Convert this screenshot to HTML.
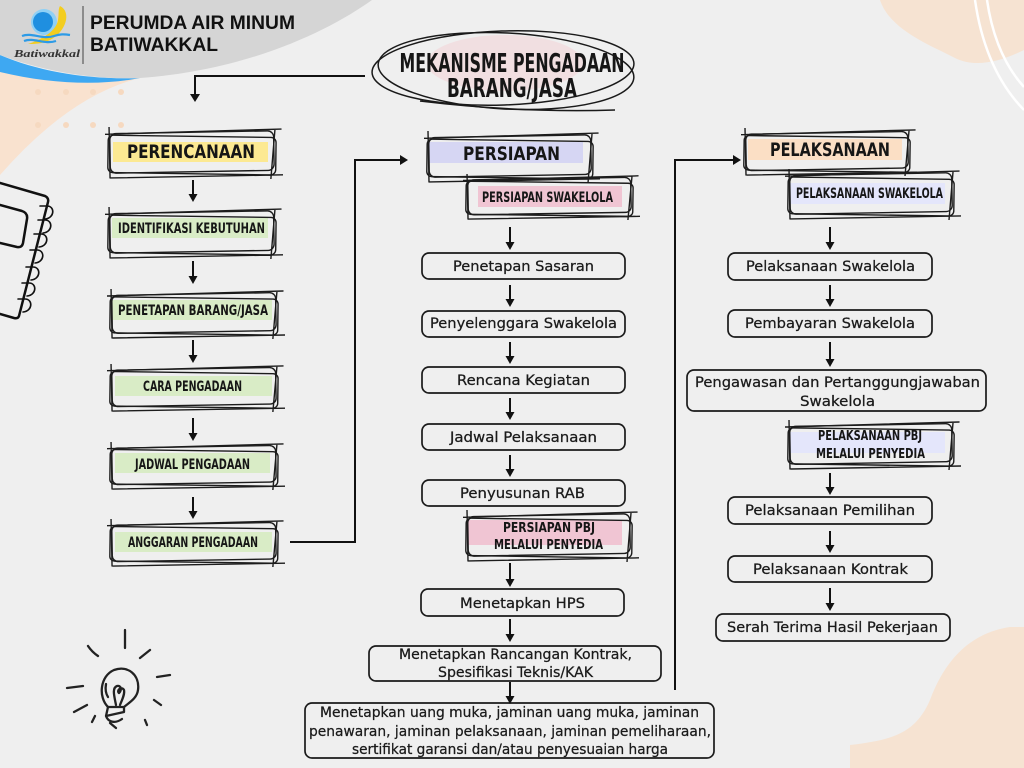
<!DOCTYPE html>
<html><head><meta charset="utf-8"><style>
html,body{margin:0;padding:0;background:#efefef;}
svg{display:block;}
.sk{font-family:"DejaVu Sans Condensed","DejaVu Sans",sans-serif;font-weight:bold;fill:#161616;}
.bx{font-family:"DejaVu Sans",sans-serif;fill:#1a1a1a;font-size:14px;stroke:#1a1a1a;stroke-width:0.25;}
</style></head><body>
<svg width="1024" height="768" viewBox="0 0 1024 768" xmlns="http://www.w3.org/2000/svg">
<defs>
<symbol id="sk" viewBox="0 0 176 50" preserveAspectRatio="none">
<g fill="none" stroke="#1c1c1c" stroke-width="1.4" stroke-linecap="round">
<rect x="5" y="5" width="162" height="38" rx="6" transform="rotate(-1 88 25)" vector-effect="non-scaling-stroke"/>
<rect x="3" y="9" width="166" height="36" rx="5" transform="rotate(0.8 88 25)" vector-effect="non-scaling-stroke"/>
<path d="M0 7 L174 2 M6 49 L176 46 M4 0 L5 49 M168 3 L164 50" vector-effect="non-scaling-stroke"/>
</g>
</symbol>
</defs>
<rect width="1024" height="768" fill="#efefef"/>
<!-- background shapes -->
<path d="M0 66 C40 80 100 84 140 78 Q70 95 0 175 Z" fill="#f9e2cf"/>
<path d="M0 55 C40 72 90 80 140 78 C100 86 50 84 0 72 Z" fill="#3ea8f2"/>
<path d="M0 0 L372 0 C330 30 250 70 140 78 C90 80 40 70 0 55 Z" fill="#d5d5d5"/>
<g fill="#f6d9c0">
<circle cx="38" cy="92" r="3"/><circle cx="66" cy="92" r="3"/><circle cx="93" cy="92" r="3"/><circle cx="121" cy="92" r="3"/>
<circle cx="38" cy="125" r="3"/><circle cx="66" cy="125" r="3"/><circle cx="93" cy="125" r="3"/><circle cx="121" cy="125" r="3"/>
</g>
<path d="M880 0 C890 30 930 45 955 58 C975 68 1000 62 1024 50 L1024 0 Z" fill="#f6e3d2"/>
<path d="M975 0 Q985 70 1024 110" fill="none" stroke="#fff" stroke-width="2.5"/>
<path d="M987 0 Q995 55 1024 87" fill="none" stroke="#fff" stroke-width="2.5"/>
<path d="M850 768 L850 745 C890 740 915 735 930 700 C945 660 970 633 1010 627 L1024 627 L1024 768 Z" fill="#f6e3d2"/>

<!-- logo -->
<circle cx="44" cy="22" r="13" fill="#8fd0f5"/>
<circle cx="43" cy="22" r="10" fill="#1f8fe0"/>
<path d="M60 6 C72 12 66 32 50 40 C42 44 34 44 28 44 C40 40 56 32 58 20 C59 14 58 9 60 6 Z" fill="#f3cd1f"/>
<path d="M22 36 C32 32 42 40 54 36 C60 34 64 34 70 35 M24 41 C34 37 44 45 56 41" fill="none" stroke="#2d9be6" stroke-width="2.2"/>
<text x="14" y="57" font-family="Liberation Serif,serif" font-style="italic" font-weight="bold" font-size="11" fill="#333" textLength="66" lengthAdjust="spacingAndGlyphs">Batiwakkal</text>
<line x1="83" y1="6" x2="83" y2="64" stroke="#444" stroke-width="1"/>
<text x="90" y="29" font-family="Liberation Sans,sans-serif" font-weight="bold" font-size="19" fill="#111" textLength="205" lengthAdjust="spacingAndGlyphs">PERUMDA AIR MINUM</text>
<text x="90" y="51" font-family="Liberation Sans,sans-serif" font-weight="bold" font-size="19" fill="#111" textLength="128" lengthAdjust="spacingAndGlyphs">BATIWAKKAL</text>

<!-- notebook -->
<g fill="none" stroke="#111" stroke-width="2.5" stroke-linecap="round" stroke-linejoin="round">
<path d="M0 183 L45 196 Q49 198 48 202 L19 316 Q18 319 14 318 L0 314"/>
<path d="M0 205 L22 211 Q28 213 27 219 L23 243 Q22 248 17 247 L0 243"/>
</g>
<g fill="none" stroke="#111" stroke-width="1.6" stroke-linecap="round">
<path d="M40 206 l7 0 c8 0 8 12 -2 13"/>
<path d="M38 220 l7 0 c8 0 8 12 -2 13"/>
<path d="M34 234 l7 0 c8 0 8 12 -2 13"/>
<path d="M30 250 l7 0 c8 0 8 12 -2 13"/>
<path d="M26 267 l7 0 c8 0 8 12 -2 13"/>
<path d="M22 283 l7 0 c8 0 8 12 -2 13"/>
<path d="M18 299 l7 0 c8 0 8 12 -2 13"/>
</g>

<!-- lightbulb -->
<g fill="none" stroke="#222" stroke-width="2.3" stroke-linecap="round" stroke-linejoin="round">
<path d="M108 707 C98 697 100 676 114 670 C128 665 140 675 138 690 C137 698 130 702 124 707 Z"/>
<path d="M108 707 L106 716 L124 712 L124 707 M106 716 C108 722 115 724 122 719 M110 723 L116 728"/>
<path d="M116 705 C114 695 112 688 117 686 C121 685 122 690 119 693 C116 690 122 686 124 690 C125 694 122 700 120 705"/>
<path d="M106 684 C105 690 106 694 108 697"/>
<path d="M125 630 L125 648 M88 646 Q92 652 98 656 M140 658 L150 650 M157 677 L170 675 M67 688 L83 686 M74 712 L87 705 M92 722 L95 716 M154 700 L161 705 M145 720 L147 725"/>
</g>

<!-- title -->
<ellipse cx="505" cy="63" rx="78" ry="28" fill="#f1dfe1"/>
<g fill="none" stroke="#1a1a1a" stroke-width="1.5">
<ellipse cx="503" cy="68" rx="131" ry="37" transform="rotate(-2 503 68)"/>
<ellipse cx="506" cy="71" rx="128" ry="38" transform="rotate(3 506 71)"/>
<path d="M420 101 Q520 113 615 110"/>
</g>
<text class="sk" x="512" y="72" font-size="26" text-anchor="middle" textLength="225" lengthAdjust="spacingAndGlyphs">MEKANISME PENGADAAN</text>
<text class="sk" x="512" y="97" font-size="26" text-anchor="middle" textLength="130" lengthAdjust="spacingAndGlyphs">BARANG/JASA</text>

<!-- connectors -->
<g fill="none" stroke="#111" stroke-width="2">
<path d="M365 76 L195 76 L195 95"/>
<path d="M290 542 L355 542 L355 160 L401 160"/>
<path d="M675 690 L675 160 L734 160"/>
</g>
<g fill="#111">
<path d="M190 94 L200 94 L195 102 Z"/>
<path d="M400 155 L400 165 L408 160 Z"/>
<path d="M733 155 L733 165 L741 160 Z"/>
</g>

<!-- highlights -->
<rect x="113" y="142" width="155" height="20" fill="#fce992"/>
<rect x="112" y="218" width="156" height="20" fill="#d9ecc6"/>
<rect x="112" y="300" width="160" height="20" fill="#d9ecc6"/>
<rect x="115" y="376" width="157" height="20" fill="#d9ecc6"/>
<rect x="115" y="453" width="155" height="20" fill="#d9ecc6"/>
<rect x="115" y="532" width="157" height="20" fill="#d9ecc6"/>
<rect x="428" y="142" width="155" height="21" fill="#d6d6f3"/>
<rect x="478" y="186" width="144" height="21" fill="#f0c5d3"/>
<rect x="468" y="520" width="154" height="25" fill="#f0c5d3"/>
<rect x="748" y="139" width="154" height="21" fill="#fbdfc5"/>
<rect x="790" y="183" width="155" height="21" fill="#e4e6fb"/>
<rect x="790" y="432" width="155" height="21" fill="#e4e6fb"/>

<!-- sketch boxes -->
<use href="#sk" x="105" y="127" width="178" height="52"/>
<use href="#sk" x="105" y="207" width="178" height="52"/>
<use href="#sk" x="107" y="289" width="178" height="50"/>
<use href="#sk" x="107" y="364" width="178" height="48"/>
<use href="#sk" x="107" y="442" width="178" height="48"/>
<use href="#sk" x="107" y="519" width="178" height="48"/>
<use href="#sk" x="424" y="131" width="176" height="52"/>
<use href="#sk" x="463" y="174" width="177" height="46"/>
<use href="#sk" x="463" y="510" width="176" height="52"/>
<use href="#sk" x="741" y="128" width="176" height="48"/>
<use href="#sk" x="785" y="169" width="176" height="51"/>
<use href="#sk" x="785" y="420" width="176" height="50"/>

<!-- sketch labels -->
<text class="sk" x="191" y="158" font-size="19" text-anchor="middle" textLength="128" lengthAdjust="spacingAndGlyphs">PERENCANAAN</text>
<text class="sk" x="191.5" y="233" font-size="14" text-anchor="middle" textLength="147" lengthAdjust="spacingAndGlyphs">IDENTIFIKASI KEBUTUHAN</text>
<text class="sk" x="193" y="315" font-size="14" text-anchor="middle" textLength="150" lengthAdjust="spacingAndGlyphs">PENETAPAN BARANG/JASA</text>
<text class="sk" x="192.5" y="391" font-size="14" text-anchor="middle" textLength="99" lengthAdjust="spacingAndGlyphs">CARA PENGADAAN</text>
<text class="sk" x="192.5" y="469" font-size="14" text-anchor="middle" textLength="115" lengthAdjust="spacingAndGlyphs">JADWAL PENGADAAN</text>
<text class="sk" x="193" y="547" font-size="14" text-anchor="middle" textLength="130" lengthAdjust="spacingAndGlyphs">ANGGARAN PENGADAAN</text>
<text class="sk" x="511.5" y="160" font-size="19" text-anchor="middle" textLength="97" lengthAdjust="spacingAndGlyphs">PERSIAPAN</text>
<text class="sk" x="547.5" y="202" font-size="14" text-anchor="middle" textLength="131" lengthAdjust="spacingAndGlyphs">PERSIAPAN SWAKELOLA</text>
<text class="sk" x="549" y="532" font-size="13" text-anchor="middle" textLength="92" lengthAdjust="spacingAndGlyphs">PERSIAPAN PBJ</text>
<text class="sk" x="548.5" y="549" font-size="13" text-anchor="middle" textLength="109" lengthAdjust="spacingAndGlyphs">MELALUI PENYEDIA</text>
<text class="sk" x="830" y="156" font-size="19" text-anchor="middle" textLength="120" lengthAdjust="spacingAndGlyphs">PELAKSANAAN</text>
<text class="sk" x="869.5" y="198" font-size="14" text-anchor="middle" textLength="147" lengthAdjust="spacingAndGlyphs">PELAKSANAAN SWAKELOLA</text>
<text class="sk" x="870" y="440" font-size="13" text-anchor="middle" textLength="104" lengthAdjust="spacingAndGlyphs">PELAKSANAAN PBJ</text>
<text class="sk" x="870.5" y="458" font-size="13" text-anchor="middle" textLength="109" lengthAdjust="spacingAndGlyphs">MELALUI PENYEDIA</text>

<!-- vertical arrows -->
<g stroke="#111" stroke-width="2">
<line x1="193" y1="180" x2="193" y2="195"/><line x1="193" y1="261" x2="193" y2="277"/><line x1="193" y1="340" x2="193" y2="356"/><line x1="193" y1="418" x2="193" y2="434"/><line x1="193" y1="497" x2="193" y2="512"/>
<line x1="510" y1="227" x2="510" y2="243"/><line x1="510" y1="285" x2="510" y2="300"/><line x1="510" y1="342" x2="510" y2="357"/><line x1="510" y1="398" x2="510" y2="413"/><line x1="510" y1="455" x2="510" y2="470"/><line x1="510" y1="563" x2="510" y2="580"/><line x1="510" y1="619" x2="510" y2="635"/>
<line x1="830" y1="227" x2="830" y2="243"/><line x1="830" y1="285" x2="830" y2="300"/><line x1="830" y1="342" x2="830" y2="360"/><line x1="830" y1="473" x2="830" y2="488"/><line x1="830" y1="531" x2="830" y2="546"/><line x1="830" y1="588" x2="830" y2="604"/>
</g>
<g fill="#111">
<path d="M188.5 194 L197.5 194 L193 202 Z"/><path d="M188.5 276 L197.5 276 L193 284 Z"/><path d="M188.5 355 L197.5 355 L193 363 Z"/><path d="M188.5 433 L197.5 433 L193 441 Z"/><path d="M188.5 511 L197.5 511 L193 519 Z"/>
<path d="M505.5 242 L514.5 242 L510 250 Z"/><path d="M505.5 299 L514.5 299 L510 307 Z"/><path d="M505.5 356 L514.5 356 L510 364 Z"/><path d="M505.5 412 L514.5 412 L510 420 Z"/><path d="M505.5 469 L514.5 469 L510 477 Z"/><path d="M505.5 579 L514.5 579 L510 587 Z"/><path d="M505.5 634 L514.5 634 L510 642 Z"/>
<path d="M825.5 242 L834.5 242 L830 250 Z"/><path d="M825.5 299 L834.5 299 L830 307 Z"/><path d="M825.5 359 L834.5 359 L830 367 Z"/><path d="M825.5 487 L834.5 487 L830 495 Z"/><path d="M825.5 545 L834.5 545 L830 553 Z"/><path d="M825.5 603 L834.5 603 L830 611 Z"/>
</g>

<!-- rounded boxes -->
<g fill="#efefef" stroke="#1a1a1a" stroke-width="1.7">
<rect x="422" y="253" width="203" height="26" rx="7"/>
<rect x="422" y="311" width="203" height="26" rx="7"/>
<rect x="422" y="367" width="203" height="26" rx="7"/>
<rect x="422" y="424" width="203" height="26" rx="7"/>
<rect x="422" y="480" width="203" height="26" rx="7"/>
<rect x="421" y="589" width="203" height="27" rx="7"/>
<rect x="369" y="646" width="292" height="35" rx="7"/>
<rect x="305" y="703" width="409" height="55" rx="7"/>
<rect x="728" y="253" width="204" height="27" rx="7"/>
<rect x="728" y="310" width="204" height="27" rx="7"/>
<rect x="687" y="370" width="299" height="41" rx="7"/>
<rect x="728" y="497" width="204" height="27" rx="7"/>
<rect x="728" y="556" width="204" height="26" rx="7"/>
<rect x="716" y="614" width="234" height="27" rx="7"/>
</g>
<line x1="510" y1="682" x2="510" y2="697" stroke="#111" stroke-width="2"/>
<path d="M505.5 696 L514.5 696 L510 704 Z" fill="#111"/>

<g class="bx" text-anchor="middle">
<text x="523.5" y="271" textLength="141" lengthAdjust="spacingAndGlyphs">Penetapan Sasaran</text>
<text x="523.5" y="328" textLength="187" lengthAdjust="spacingAndGlyphs">Penyelenggara Swakelola</text>
<text x="523.5" y="385" textLength="133" lengthAdjust="spacingAndGlyphs">Rencana Kegiatan</text>
<text x="523.5" y="442" textLength="147" lengthAdjust="spacingAndGlyphs">Jadwal Pelaksanaan</text>
<text x="522.5" y="498" textLength="125" lengthAdjust="spacingAndGlyphs">Penyusunan RAB</text>
<text x="522.5" y="608" textLength="125" lengthAdjust="spacingAndGlyphs">Menetapkan HPS</text>
<text x="515.5" y="659" textLength="233" lengthAdjust="spacingAndGlyphs">Menetapkan Rancangan Kontrak,</text>
<text x="515.5" y="677" textLength="155" lengthAdjust="spacingAndGlyphs">Spesifikasi Teknis/KAK</text>
<text x="509.5" y="717" textLength="379" lengthAdjust="spacingAndGlyphs">Menetapkan uang muka, jaminan uang muka, jaminan</text>
<text x="510" y="736" textLength="402" lengthAdjust="spacingAndGlyphs">penawaran, jaminan pelaksanaan, jaminan pemeliharaan,</text>
<text x="510" y="754" textLength="316" lengthAdjust="spacingAndGlyphs">sertifikat garansi dan/atau penyesuaian harga</text>
<text x="830.5" y="271" textLength="169" lengthAdjust="spacingAndGlyphs">Pelaksanaan Swakelola</text>
<text x="830" y="328" textLength="170" lengthAdjust="spacingAndGlyphs">Pembayaran Swakelola</text>
<text x="837.5" y="387" textLength="285" lengthAdjust="spacingAndGlyphs">Pengawasan dan Pertanggungjawaban</text>
<text x="837.5" y="406" textLength="75" lengthAdjust="spacingAndGlyphs">Swakelola</text>
<text x="830" y="515" textLength="170" lengthAdjust="spacingAndGlyphs">Pelaksanaan Pemilihan</text>
<text x="830.5" y="574" textLength="155" lengthAdjust="spacingAndGlyphs">Pelaksanaan Kontrak</text>
<text x="832.5" y="632" textLength="211" lengthAdjust="spacingAndGlyphs">Serah Terima Hasil Pekerjaan</text>
</g>
</svg>
</body></html>
